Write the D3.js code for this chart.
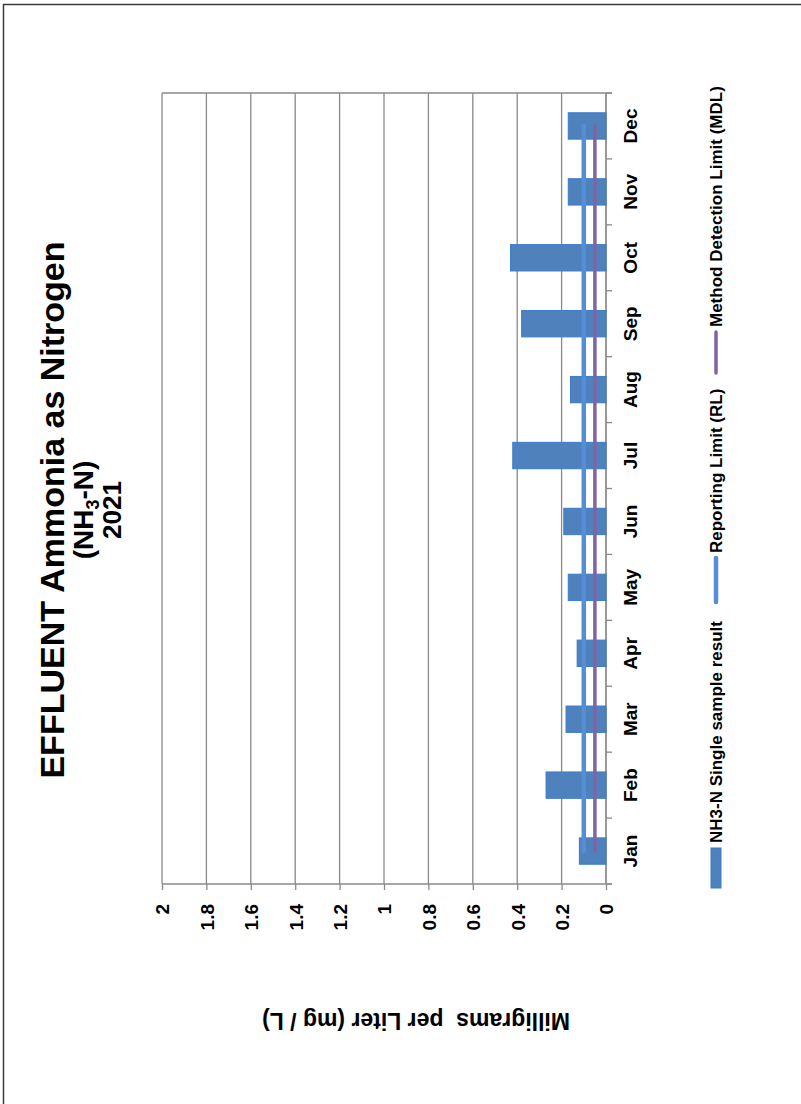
<!DOCTYPE html>
<html>
<head>
<meta charset="utf-8">
<script src="https://cdn.jsdelivr.net/npm/d3@7"></script>
<style>
  body { margin: 0; background: #fff; }
  text { font-family: Arial, "Liberation Sans", sans-serif; font-weight: bold; fill: #000; }
</style>
</head>
<body>
<script>
const months = ["Jan", "Feb", "Mar", "Apr", "May", "Jun", "Jul", "Aug", "Sep", "Oct", "Nov", "Dec"]
const nh3 = [0.12, 0.27, 0.18, 0.13, 0.17, 0.19, 0.42, 0.16, 0.38, 0.43, 0.17, 0.17]
const rl = [0.1, 0.1, 0.1, 0.1, 0.1, 0.1, 0.1, 0.1, 0.1, 0.1, 0.1, 0.1]
const mdl = [0.05, 0.05, 0.05, 0.05, 0.05, 0.05, 0.05, 0.05, 0.05, 0.05, 0.05, 0.05]
const valueTicks = [0, 0.2, 0.4, 0.6, 0.8, 1, 1.2, 1.4, 1.6, 1.8, 2]
const valueLabels = ["0", "0.2", "0.4", "0.6", "0.8", "1", "1.2", "1.4", "1.6", "1.8", "2"]
const legendLabels = ["NH3-N Single sample result", "Reporting Limit (RL)", "Method Detection Limit (MDL)"]

const m = { width: 801, height: 1104 }
const plot = { left: 162, right: 606, top: 93, bottom: 884 }
const grid = '#8a8a8a'

const svg = d3.select('body').append('svg')
    .attr('width', m.width)
    .attr('height', m.height)

// outer frame (only top and left edges are inside the picture)
svg.append('path')
    .attr('d', `M3.5,${m.height} V4.5 H${m.width}`)
    .attr('fill', 'none')
    .attr('stroke', '#3a3a3a')
    .attr('stroke-width', 1.5)

// chart is an Excel column chart turned 90 degrees: value runs right-to-left
const x = d3.scaleLinear().domain([0, 2]).range([plot.right, plot.left])
const y = d3.scaleBand().domain(months).range([plot.bottom, plot.top])
    .paddingInner(0.6).paddingOuter(0.3)
const bw = y.bandwidth()
const cy = d => y(d) + bw / 2

const g = svg.append('g')

// gridlines
g.selectAll('.grid')
    .data(valueTicks)
    .enter()
    .append('line')
        .attr('x1', d => x(d)).attr('x2', d => x(d))
        .attr('y1', plot.top).attr('y2', plot.bottom)
        .attr('stroke', grid)
        .attr('stroke-width', 1.3)

// top border of plot
g.append('line')
    .attr('x1', plot.left).attr('x2', plot.right + 6)
    .attr('y1', plot.top).attr('y2', plot.top)
    .attr('stroke', grid).attr('stroke-width', 1.3)

// value axis along the bottom
const xAxis = g.append('g')
    .attr('transform', `translate(0,${plot.bottom})`)
    .call(d3.axisBottom(x).tickValues(valueTicks).tickSize(6).tickSizeOuter(0)
        .tickFormat((d, i) => valueLabels[i]))
xAxis.select('.domain').attr('stroke', grid).attr('stroke-width', 1.3)
    .attr('d', `M${plot.left},0H${plot.right + 6}`)
xAxis.selectAll('.tick line').attr('stroke', grid).attr('stroke-width', 1.3)
xAxis.selectAll('.tick text')
    .attr('font-size', 19)
    .attr('font-family', null)
    .attr('text-anchor', 'end')
    .attr('transform', 'translate(0,20) rotate(-90)')
    .attr('x', 0)
    .attr('y', 6.8)
    .attr('dy', null)

// category axis along the right side
const bounds = months.map(d => cy(d) + y.step() / 2).concat([cy("Dec") - y.step() / 2])
g.append('line')
    .attr('x1', plot.right).attr('x2', plot.right)
    .attr('y1', plot.top).attr('y2', plot.bottom)
    .attr('stroke', grid).attr('stroke-width', 1.3)
g.selectAll('.ctick')
    .data(bounds)
    .enter()
    .append('line')
        .attr('x1', plot.right).attr('x2', plot.right + 6)
        .attr('y1', d => d).attr('y2', d => d)
        .attr('stroke', grid).attr('stroke-width', 1.3)
g.selectAll('.month')
    .data(months)
    .enter()
    .append('text')
        .attr('transform', d => `translate(637,${cy(d)}) rotate(-90)`)
        .attr('text-anchor', 'middle')
        .attr('font-size', 19)
        .text(d => d)

// bars
g.selectAll('.bar')
    .data(nh3)
    .enter()
    .append('rect')
        .attr('x', d => x(d))
        .attr('y', (d, i) => y(months[i]))
        .attr('width', d => x(0) - x(d))
        .attr('height', bw)
        .attr('fill', '#4f81bd')
        .attr('stroke', '#3b7ccb')
        .attr('stroke-width', 1)

// limit lines
const line = d3.line()
    .x(d => x(d))
    .y((d, i) => cy(months[i]))
g.append('path')
    .attr('d', line(rl))
    .attr('fill', 'none')
    .attr('stroke', '#558ed5')
    .attr('stroke-width', 4.5)
    .attr('stroke-linecap', 'round')
g.append('path')
    .attr('d', line(mdl))
    .attr('fill', 'none')
    .attr('stroke', '#8064a2')
    .attr('stroke-width', 3.5)
    .attr('stroke-linecap', 'round')

// title
const title = svg.append('g').attr('transform', 'translate(0,510)')
title.append('text')
    .attr('transform', 'translate(63.5,0) rotate(-90)')
    .attr('text-anchor', 'middle')
    .attr('font-size', 34)
    .text('EFFLUENT Ammonia as Nitrogen')
const t2 = title.append('text')
    .attr('transform', 'translate(93,0) rotate(-90)')
    .attr('text-anchor', 'middle')
    .attr('font-size', 28)
t2.append('tspan').text('(NH')
t2.append('tspan').attr('font-size', 18).attr('dy', 6).text('3')
t2.append('tspan').attr('dy', -6).text('-N)')
title.append('text')
    .attr('transform', 'translate(120.5,0) rotate(-90)')
    .attr('text-anchor', 'middle')
    .attr('font-size', 26)
    .text('2021')

// value axis title (upside down in the source)
svg.append('text')
    .attr('transform', 'translate(416,1021) rotate(180)')
    .attr('text-anchor', 'middle')
    .attr('dy', '0.35em')
    .attr('font-size', 23)
    .style('white-space', 'pre')
    .text('Milligrams  per Liter (mg / L)')

// legend
const leg = svg.append('g')
leg.append('rect')
    .attr('x', 711).attr('y', 848)
    .attr('width', 10).attr('height', 40)
    .attr('fill', '#4f81bd').attr('stroke', '#3b7ccb')
leg.append('line')
    .attr('x1', 716).attr('x2', 716).attr('y1', 558).attr('y2', 602)
    .attr('stroke', '#558ed5').attr('stroke-width', 4.5).attr('stroke-linecap', 'round')
leg.append('line')
    .attr('x1', 716).attr('x2', 716).attr('y1', 332).attr('y2', 373)
    .attr('stroke', '#8064a2').attr('stroke-width', 3.5).attr('stroke-linecap', 'round')
const legY = [843, 553, 327]
leg.selectAll('.lt')
    .data(legendLabels)
    .enter()
    .append('text')
        .attr('transform', (d, i) => `translate(722,${legY[i]}) rotate(-90)`)
        .attr('font-size', 17)
        .text(d => d)
</script>
</body>
</html>
